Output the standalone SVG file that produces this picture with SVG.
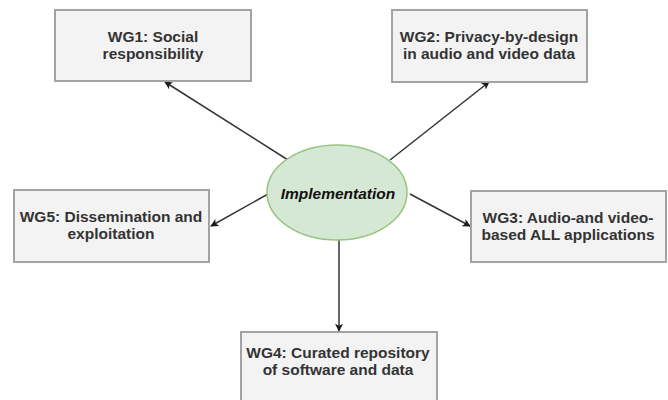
<svg xmlns="http://www.w3.org/2000/svg" width="668" height="400" viewBox="0 0 668 400">
  <defs>
    <marker id="arrow" viewBox="0 0 10 10" refX="9" refY="5" markerWidth="8" markerHeight="8" markerUnits="userSpaceOnUse" orient="auto">
      <path d="M0,0 L10,5 L0,10 L2.5,5 Z" fill="#1a1a1a"/>
    </marker>
    <style>
      .box { fill: #f3f3f3; stroke: #a3a3a3; stroke-width: 2; }
      .lbl { font-family: "Liberation Sans", Arial, sans-serif; font-size: 15.5px; font-weight: bold; fill: #333333; text-anchor: middle; }
      .core { fill: #d5e8d4; stroke: #97c47e; stroke-width: 1.5; }
      .core-lbl { font-family: "Liberation Sans", Arial, sans-serif; font-size: 15.5px; font-weight: bold; font-style: italic; fill: #111111; text-anchor: middle; }
      .edge { stroke: #333333; stroke-width: 1.5; fill: none; marker-end: url(#arrow); }
    </style>
  </defs>
  <rect width="668" height="400" fill="#ffffff"/>

  <g id="connectors">
    <line class="edge" x1="288" y1="160" x2="165" y2="82"/>
    <line class="edge" x1="390" y1="160" x2="489" y2="82"/>
    <line class="edge" x1="268" y1="194" x2="211" y2="226"/>
    <line class="edge" x1="410" y1="194" x2="470" y2="226"/>
    <line class="edge" x1="339" y1="240" x2="339" y2="331"/>
  </g>

  <g id="implementation">
    <ellipse class="core" cx="337" cy="192.5" rx="70" ry="47.5"/>
    <text class="core-lbl" x="338" y="199">Implementation</text>
  </g>

  <g id="wg1">
    <rect class="box" x="55" y="10" width="196" height="71"/>
    <text class="lbl" x="153" y="42">WG1: Social</text>
    <text class="lbl" x="153" y="59">responsibility</text>
  </g>

  <g id="wg2">
    <rect class="box" x="392" y="10" width="195" height="72"/>
    <text class="lbl" x="489" y="42">WG2: Privacy-by-design</text>
    <text class="lbl" x="489" y="59">in audio and video data</text>
  </g>

  <g id="wg5">
    <rect class="box" x="14" y="190" width="195" height="72"/>
    <text class="lbl" x="111" y="222">WG5: Dissemination and</text>
    <text class="lbl" x="111" y="239">exploitation</text>
  </g>

  <g id="wg3">
    <rect class="box" x="471" y="191" width="195" height="71"/>
    <text class="lbl" x="568" y="223">WG3: Audio-and video-</text>
    <text class="lbl" x="568" y="240">based ALL applications</text>
  </g>

  <g id="wg4">
    <rect class="box" x="241" y="332" width="196" height="80"/>
    <text class="lbl" x="338" y="358">WG4: Curated repository</text>
    <text class="lbl" x="338" y="375">of software and data</text>
  </g>
</svg>
